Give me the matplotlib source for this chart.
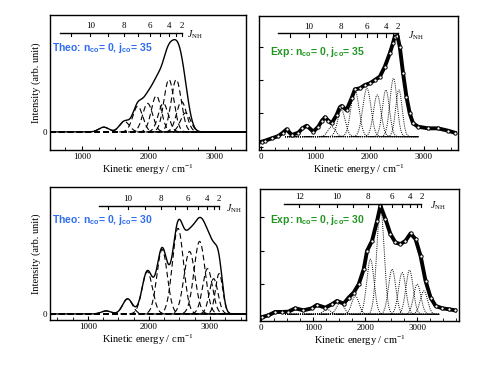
import numpy as np
import matplotlib
matplotlib.use("Agg")
import matplotlib.pyplot as plt
from matplotlib.ticker import MultipleLocator

plt.rcParams['mathtext.fontset'] = 'custom'
plt.rcParams['mathtext.rm'] = 'Liberation Serif'
plt.rcParams['mathtext.it'] = 'Liberation Serif:italic'
plt.rcParams['mathtext.bf'] = 'Liberation Sans:bold'
plt.rcParams['font.family'] = ['Liberation Serif']

# ---------------- data ----------------
# Theory, j_co = 35 : gaussian components (center cm-1, height, width)
theo35_centers = [1330, 1640, 1840, 1990, 2120, 2225, 2310, 2420, 2500, 2560]
theo35_heights = [0.05, 0.11, 0.27, 0.30, 0.38, 0.30, 0.55, 0.55, 0.32, 0.20]
theo35_widths = [75, 75, 75, 75, 75, 75, 75, 75, 75, 75]

# Theory, j_co = 30
theo30_centers = [1300, 1650, 1973, 2216, 2476, 2665, 2830, 2960, 3060, 3150]
theo30_heights = [0.03, 0.15, 0.42, 0.64, 0.85, 0.62, 0.72, 0.45, 0.35, 0.40]
theo30_widths = [80, 80, 85, 85, 90, 90, 90, 80, 70, 60]

# Experiment j_co = 35 : measured spectrum
exp35_energy = [12, 74, 196, 319, 400, 470, 564, 686, 760, 840, 962, 1054, 1120, 1177,
                1240, 1300, 1391, 1450, 1483, 1575, 1667, 1729, 1820, 1913, 2005, 2096,
                2188, 2280, 2372, 2430, 2464, 2513, 2556, 2617, 2679, 2740, 2801, 2893,
                3077, 3261, 3445, 3568]
exp35_signal = [0.15, 0.18, 0.25, 0.32, 0.42, 0.52, 0.35, 0.42, 0.55, 0.63, 0.45, 0.60, 0.78,
                0.88, 0.78, 0.70, 0.95, 1.18, 1.22, 1.10, 1.45, 1.72, 1.75, 1.85, 1.90, 2.00,
                2.10, 2.40, 2.80, 3.10, 3.30, 3.32, 3.00, 2.20, 1.50, 1.00, 0.70, 0.60,
                0.55, 0.55, 0.48, 0.42]
exp35_baseline = 0.30
exp35_centers = [1300, 1480, 1729, 1950, 2140, 2300, 2440, 2540]
exp35_heights = [0.30, 0.80, 1.40, 1.45, 1.25, 1.40, 1.75, 1.40]
exp35_widths = [70, 70, 75, 75, 70, 65, 65, 60]

# Experiment j_co = 30
exp30_energy = [26, 141, 270, 398, 526, 655, 815, 976, 1072, 1233, 1361, 1457, 1586, 1682,
                1778, 1875, 1971, 2035, 2131, 2228, 2292, 2388, 2484, 2581, 2677, 2773,
                2870, 2966, 3062, 3158, 3255, 3351, 3480, 3608, 3724]
exp30_signal = [0.02, 0.07, 0.17, 0.17, 0.18, 0.28, 0.22, 0.28, 0.38, 0.30, 0.40, 0.50, 0.42,
                0.60, 0.75, 1.00, 1.45, 2.00, 2.30, 2.90, 3.35, 2.95, 2.50, 2.25, 2.20, 2.30,
                2.52, 2.35, 1.85, 1.10, 0.60, 0.35, 0.28, 0.25, 0.22]
exp30_baseline = 0.10
exp30_centers = [1265, 1521, 1810, 2099, 2292, 2516, 2709, 2850, 2998, 3126]
exp30_heights = [0.15, 0.35, 0.55, 1.65, 3.22, 1.35, 1.25, 1.32, 0.90, 0.70]
exp30_widths = [70, 70, 70, 70, 70, 70, 70, 70, 70, 70]

# J_NH rotational scales (J value -> kinetic energy position)
jscale_tl_J = [1, 2, 3, 4, 5, 6, 7, 8, 9, 10, 11]
jscale_tl_E = [2553, 2500, 2421, 2315, 2183, 2025, 1840, 1629, 1391, 1127, 837]
jscale_tr_J = [1, 2, 3, 4, 5, 6, 7, 8, 9, 10, 11]
jscale_tr_E = [2590, 2527, 2431, 2304, 2145, 1954, 1732, 1478, 1191, 873, 523]
jscale_bl_J = [1, 2, 3, 4, 5, 6, 7, 8, 9, 10, 11]
jscale_bl_E = [3206, 3149, 3062, 2947, 2803, 2630, 2429, 2198, 1939, 1651, 1334]
jscale_br_J = [1, 2, 3, 4, 5, 6, 7, 8, 9, 10, 11, 12]
jscale_br_E = [3141, 3078, 2985, 2860, 2704, 2517, 2298, 2049, 1768, 1456, 1113, 738]

# ---------------- figure ----------------
fig = plt.figure(figsize=(4.91, 3.68), dpi=100)
W, H = 491, 368


def box(l, t, r, b):
    return [l / W, 1 - b / H, (r - l) / W, (b - t) / H]


ax_tl = fig.add_axes(box(50, 15, 246, 150))
ax_tr = fig.add_axes(box(259, 16, 458, 150))
ax_bl = fig.add_axes(box(50, 187, 246, 320))
ax_br = fig.add_axes(box(260, 189, 459, 321))

BLUE = '#2f6cf0'
GREEN = '#229622'


def gauss_components(x, centers, heights, widths):
    return [h * np.exp(-0.5 * ((x - c) / w) ** 2) for c, h, w in zip(centers, heights, widths)]


def jscale(ax, Js, Es, xstart, ypos, labels_J, label_x):
    tr = ax.get_xaxis_transform()
    ax.plot([xstart, Es[Js.index(2)]], [ypos, ypos], color='black', lw=1.0, transform=tr,
            clip_on=False)
    for J, E in zip(Js, Es):
        if E < xstart or J < 2:
            continue
        ax.plot([E, E], [ypos, ypos - 0.025], color='black', lw=0.8, transform=tr)
        if J in labels_J:
            ax.text(E, ypos + 0.02, str(J), transform=tr, ha='center', va='bottom',
                    fontsize=6.5)
    ax.text(label_x, ypos - 0.02, r'$J_{\mathrm{NH}}$', transform=tr, ha='left',
            va='center', fontsize=7)


def style_axes(ax):
    for s in ax.spines.values():
        s.set_linewidth(1.0)
    ax.tick_params(direction='in', length=3, width=0.8, labelsize=6.5, top=False,
                   right=False, pad=2)
    ax.tick_params(which='minor', direction='in', length=2, width=0.6)
    ax.xaxis.set_major_locator(MultipleLocator(1000))
    ax.xaxis.set_minor_locator(MultipleLocator(250))
    ax.set_xlabel(r'Kinetic energy / cm$^{-1}$', fontsize=7.5, labelpad=1)


# ---- theory panels ----
def theo_panel(ax, centers, heights, widths, xlim, ylim, label):
    x = np.linspace(xlim[0], xlim[1], 1500)
    comps = gauss_components(x, centers, heights, widths)
    for c in comps:
        ax.plot(x, c, color='black', lw=0.8, ls=(0, (5, 3)))
    ax.plot(x, np.sum(comps, axis=0), color='black', lw=1.0)
    ax.set_xlim(*xlim)
    ax.set_ylim(*ylim)
    ax.set_yticks([0])
    ax.set_yticklabels(['0'])
    style_axes(ax)
    ax.set_ylabel('Intensity (arb. unit)', fontsize=7.5, labelpad=1)
    ax.text(0.01, 0.755, label, transform=ax.transAxes, color=BLUE, fontsize=7.5,
            fontweight='bold', family='Liberation Sans', va='center')


theo_panel(ax_tl, theo35_centers, theo35_heights, theo35_widths, (520, 3470), (-0.19, 1.23),
           r'Theo: n$_{\mathbf{co}}$= 0, j$_{\mathbf{co}}$= 35')
theo_panel(ax_bl, theo30_centers, theo30_heights, theo30_widths, (380, 3590), (-0.06, 1.26),
           r'Theo: n$_{\mathbf{co}}$= 0, j$_{\mathbf{co}}$= 30')


# ---- experiment panels ----
def exp_panel(ax, xe, ye, base, centers, heights, widths, xlim, ylim, crange, label, lx, ly):
    x = np.linspace(crange[0], crange[1], 1200)
    comps = gauss_components(x, centers, heights, widths)
    for c in comps:
        ax.plot(x, base + c, color='black', lw=0.7, ls=(0, (1, 1.2)))
    ax.plot(x, base + np.zeros_like(x), color='black', lw=0.7, ls=(0, (1, 1.2)))
    ax.plot(xe, ye, color='black', lw=2.8, solid_joinstyle='round', marker='o', ms=2.4,
            mfc='white', mec='black', mew=0.7)
    ax.set_xlim(*xlim)
    ax.set_ylim(*ylim)
    ax.set_yticks([0, 1, 2, 3])
    ax.set_yticklabels([])
    style_axes(ax)
    ax.text(lx, ly, label, transform=ax.transAxes, color=GREEN, fontsize=7.5,
            fontweight='bold', family='Liberation Sans', va='center')


exp_panel(ax_tr, exp35_energy, exp35_signal, exp35_baseline, exp35_centers, exp35_heights,
          exp35_widths, (-40, 3630), (-0.1, 3.92), (440, 2900),
          r'Exp: n$_{\mathbf{co}}$= 0, j$_{\mathbf{co}}$= 35', 0.055, 0.73)
exp_panel(ax_br, exp30_energy, exp30_signal, exp30_baseline, exp30_centers, exp30_heights,
          exp30_widths, (-20, 3800), (-0.1, 3.85), (460, 3420),
          r'Exp: n$_{\mathbf{co}}$= 0, j$_{\mathbf{co}}$= 30', 0.05, 0.765)

# J_NH scales
jscale(ax_tl, jscale_tl_J, jscale_tl_E, 675, 0.87, [2, 4, 6, 8, 10], 2580)
jscale(ax_tr, jscale_tr_J, jscale_tr_E, 306, 0.87, [2, 4, 6, 8, 10], 2700)
jscale(ax_bl, jscale_bl_J, jscale_bl_E, 1190, 0.86, [2, 4, 6, 8, 10], 3270)
jscale(ax_br, jscale_br_J, jscale_br_E, 450, 0.89, [2, 4, 6, 8, 10, 12], 3250)

fig.savefig('out.png', dpi=100)
